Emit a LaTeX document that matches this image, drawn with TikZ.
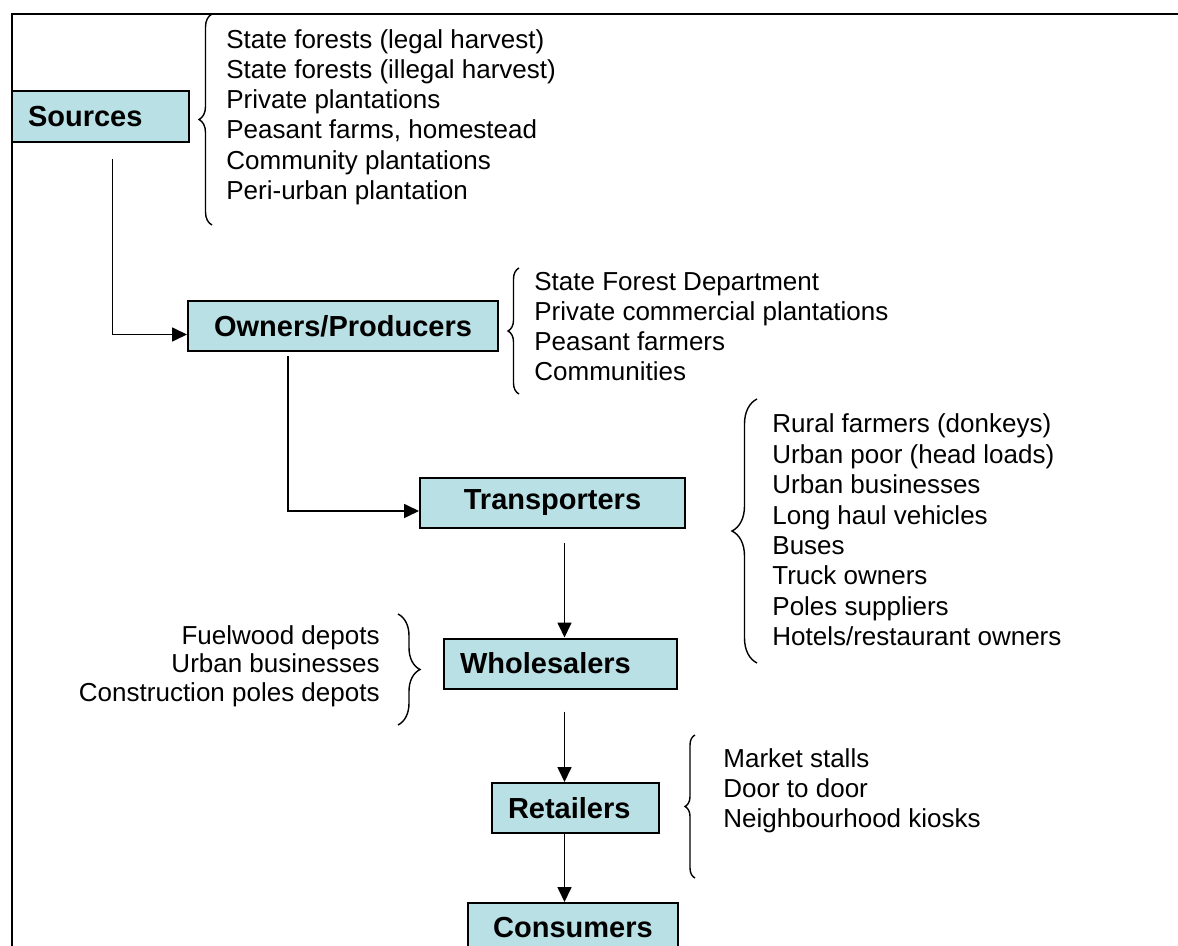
\documentclass[tikz,border=0pt]{standalone}
\usepackage{fontspec}
\setmainfont{Liberation Sans}
\usetikzlibrary{arrows.meta,decorations.pathreplacing}
\definecolor{boxfill}{RGB}{185,224,228}

\tikzset{
  stage/.style={draw, line width=1pt, fill=boxfill, minimum height=25pt, inner ysep=0pt,
    font=\fontsize{14.5}{17}\selectfont\bfseries},
  stageleft/.style={stage, align=left, inner xsep=8pt, text width=#1},
  itemlist/.style={inner sep=0pt, align=left, font=\fontsize{13}{#1}\selectfont},
  itemlist/.default=15pt,
  flow/.style={-{Triangle[length=7.5pt,width=7pt]}, line width=0.85pt},
  listbrace/.style={decorate, decoration={brace, amplitude=#1}, line width=0.7pt},
}

\begin{document}
\begin{tikzpicture}[x=0.5pt, y=-0.5pt]
            \useasboundingbox (0,0) rectangle (1178,946);
            \clip (0,0) rectangle (1178,946);
            %\draw[help lines] (0,0) grid (1178,946);
            \draw[line width=1.1pt] (11.7,980) |- (1200,13.7);

            % the chain of stages
            \node[stageleft=72.5pt, minimum height=25.5pt] (src) at (100.5,116.5) {Sources};
            \node[stage, minimum width=155pt] (own) at (343,326.5) {Owners/Producers};
            \node[stage, minimum width=132.5pt] (trn) at (552.5,503) {Transporters};
            \node[stageleft=100.5pt] (whl) at (560.5,663.5) {Wholesalers};
            \node[stageleft=67.5pt] (ret) at (575.5,808) {Retailers};
            \node[stage, minimum width=105pt] (con) at (573,928) {Consumers};

            % who is in each stage
            \node[itemlist=15.1pt, anchor=west] (srclist) at (226,117) {State forests (legal harvest)\\State forests (illegal harvest)\\Private plantations\\Peasant farms, homestead\\Community plantations\\Peri-urban plantation};
            \node[itemlist, anchor=west] (ownlist) at (534,327) {State Forest Department\\Private commercial plantations\\Peasant farmers\\Communities};
            \node[itemlist=15.2pt, anchor=west] (trnlist) at (772,530) {Rural farmers (donkeys)\\Urban poor (head loads)\\Urban businesses\\Long haul vehicles\\Buses\\Truck owners\\Poles suppliers\\Hotels/restaurant owners};
            \node[itemlist=14.25pt, anchor=east, align=right] (whllist) at (380,666) {Fuelwood depots\\Urban businesses\\Construction poles depots};
            \node[itemlist, anchor=west] (retlist) at (723,790.5) {Market stalls\\Door to door\\Neighbourhood kiosks};

            \draw[listbrace=6.5pt] (212,225) -- (212,14);
            \draw[listbrace=5.5pt] (519,394) -- (519,268);
            \draw[listbrace=12.5pt] (757,663) -- (757,399);
            \draw[listbrace=11pt] (398,614) -- (398,725);
            \draw[listbrace=5pt] (695,878) -- (695,735);

            % arrows
            \draw[flow] ([xshift=6pt,yshift=-8pt]src.south) |- ([yshift=-4pt]own.west);
            \draw[flow] ([xshift=-27.5pt,yshift=-2pt]own.south) |- ([yshift=-4pt]trn.west);
            \draw[flow] ([xshift=6pt,yshift=-7pt]trn.south) coordinate (t1) -- (t1 |- whl.north);
            \draw[flow] ([xshift=2pt,yshift=-11pt]whl.south) coordinate (w1) -- (w1 |- ret.north);
            \draw[flow] ([xshift=-5.5pt]ret.south) coordinate (r1) -- (r1 |- con.north);
        \end{tikzpicture}
\end{document}
